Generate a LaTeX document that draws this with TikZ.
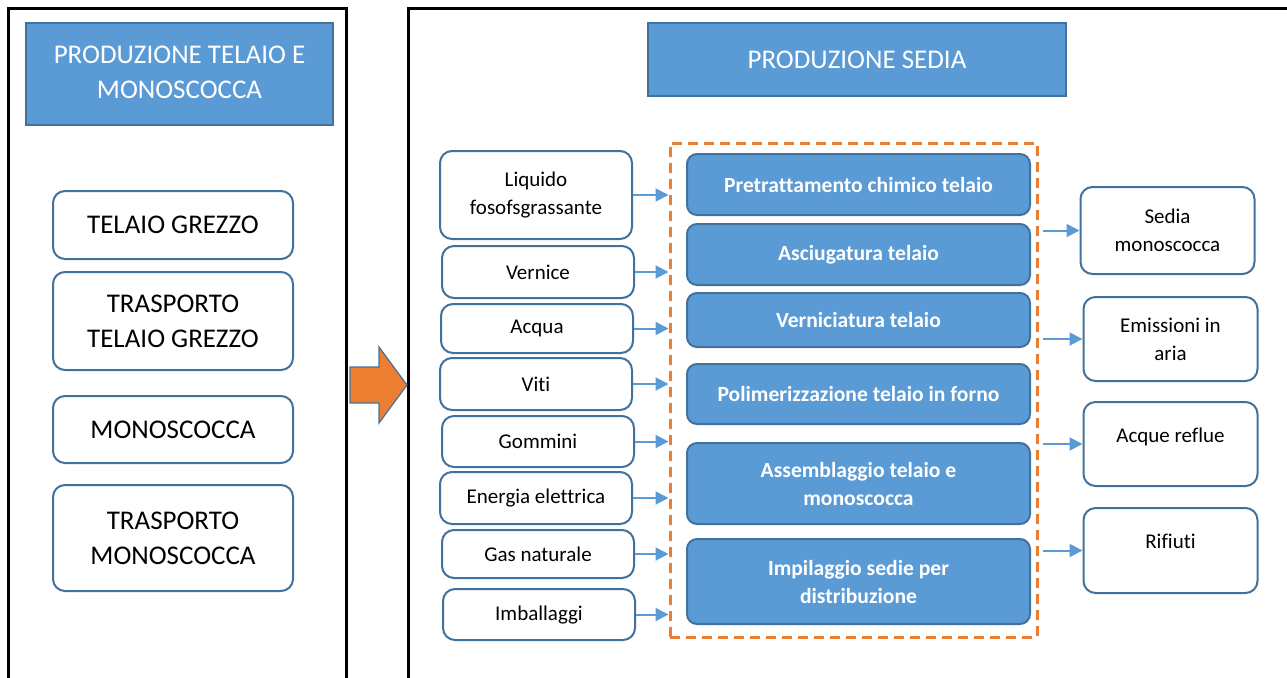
\documentclass[tikz,border=0pt]{standalone}
\usepackage{fontspec}
\setmainfont{Carlito}[Ligatures=NoCommon]
\usetikzlibrary{arrows.meta}
\definecolor{officeblue}{HTML}{5B9BD5}
\definecolor{edgeblue}{HTML}{41719C}
\definecolor{officeorange}{HTML}{ED7D31}
\begin{document}
\begin{tikzpicture}[x=0.5pt,y=-0.5pt,
	header/.style={draw=edgeblue,line width=0.8pt,fill=officeblue,text=white,align=center,font=\fontsize{13.5}{17.5}\selectfont},
	bigbox/.style={draw=edgeblue,line width=1pt,rounded corners=6pt,fill=white,minimum width=120pt,align=center,font=\fontsize{13.5}{17.5}\selectfont},
	inbox/.style={draw=edgeblue,line width=1pt,rounded corners=6pt,fill=white,minimum width=96pt,align=center,font=\fontsize{10.5}{14}\selectfont},
	outbox/.style={draw=edgeblue,line width=1pt,rounded corners=6pt,fill=white,minimum width=87pt,align=center,font=\fontsize{10.5}{14}\selectfont},
	phase/.style={draw=edgeblue,line width=1pt,rounded corners=5pt,fill=officeblue,text=white,minimum width=171.5pt,align=center,font=\bfseries\fontsize{10.8}{14}\selectfont},
	flow/.style={-{Triangle[length=6.5pt,width=6.5pt]},draw=officeblue,line width=1pt}]
	\useasboundingbox (0,0) rectangle (1287,677);
	\draw [line width=1.5pt] (8,700) -- (8,8) -- (346,8) -- (346,700);
	\draw [line width=1.5pt] (408,700) -- (408,8) -- (1300,8);
	\node[header,minimum width=153.5pt,minimum height=51pt] (hleft) at (179.5,74) {\raisebox{11pt}{\begin{tabular}{@{}c@{}}PRODUZIONE TELAIO E\\MONOSCOCCA\end{tabular}}};
	\node[header,minimum width=209pt,minimum height=36.5pt] (hright) at (857,59.5) {PRODUZIONE SEDIA};
	\node[bigbox,minimum height=34pt] (tg) at (173,225) {TELAIO GREZZO};
	\node[bigbox,minimum height=49pt] (ttg) at (173,321) {TRASPORTO\\TELAIO GREZZO};
	\node[bigbox,minimum height=33.5pt] (mono) at (173,429.5) {MONOSCOCCA};
	\node[bigbox,minimum height=53pt] (tmono) at (173,538) {TRASPORTO\\MONOSCOCCA};
	\draw [fill=officeorange,draw=edgeblue,line width=0.6pt] (350,367) -- (379,367) -- (379,347) -- (407,385) -- (379,423) -- (379,403) -- (350,403) -- cycle;
	\node[draw=officeorange,line width=1.5pt,dash pattern=on 5pt off 3pt,minimum width=183.5pt,minimum height=247pt] (frame) at (853.5,390) {};
	\node[phase,minimum height=30.5pt] (pre) at (858.5,184.5) {Pretrattamento chimico telaio};
	\node[phase,minimum height=30.5pt] (asc) at (858.5,254.5) {Asciugatura telaio};
	\node[phase,minimum height=27pt] (ver) at (858.5,320) {Verniciatura telaio};
	\node[phase,minimum height=30pt] (pol) at (858.5,394) {Polimerizzazione telaio in forno};
	\node[phase,minimum height=40.5pt] (ass) at (858.5,483.5) {Assemblaggio telaio e\\monoscocca};
	\node[phase,minimum height=42.5pt] (imp) at (858.5,581.5) {Impilaggio sedie per\\distribuzione};
	\node[inbox,minimum height=44pt] (liq) at (536,195) {Liquido\\fosofsgrassante};
	\node[inbox,minimum height=26pt] (vern) at (538,272) {Vernice};
	\node[inbox,minimum height=24.5pt] (acq) at (537,328.5) {Acqua};
	\node[inbox,minimum height=26pt] (viti) at (536,384) {Viti};
	\node[inbox,minimum height=25.5pt] (gom) at (538,441.5) {Gommini};
	\node[inbox,minimum height=26pt] (ene) at (536,498) {Energia elettrica};
	\node[inbox,minimum height=24pt] (gas) at (538,554) {Gas naturale};
	\node[inbox,minimum height=25.5pt] (imb) at (539,614.5) {Imballaggi};
	\node[outbox,minimum height=43.5pt] (sed) at (1167.5,230.5) {Sedia\\monoscocca};
	\node[outbox,minimum height=42pt] (emi) at (1170.5,339) {Emissioni in\\aria};
	\node[outbox,minimum height=42pt] (acr) at (1170.5,444) {\raisebox{9pt}{Acque reflue}};
	\node[outbox,minimum height=42.5pt] (rif) at (1170.5,550.5) {\raisebox{9pt}{Rifiuti}};
	\foreach \src in {liq,vern,acq,viti,gom,ene,gas,imb}
		\draw[flow] (\src.east) -- (\src.east -| frame.west);
	\foreach \dst in {sed,emi,acr,rif}
		\draw[flow] ([xshift=2pt]frame.east |- \dst.west) -- (\dst.west);
\end{tikzpicture}
\end{document}
